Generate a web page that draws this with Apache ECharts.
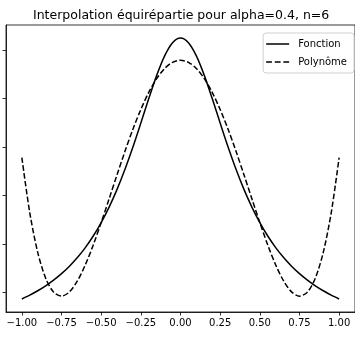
<!DOCTYPE html>
<html>
<head>
<meta charset="utf-8">
<script src="https://cdn.jsdelivr.net/npm/echarts@6/dist/echarts.min.js"></script>
<style>
  html, body { margin: 0; padding: 0; background: #fff; }
  #chart { width: 355px; height: 337px; }
</style>
</head>
<body>
<div id="chart"></div>
<script>
// Sample abscissae on [-1, 1]
const xs = [-1.00, -0.95, -0.90, -0.85, -0.80, -0.75, -0.70, -0.65, -0.60, -0.55,
            -0.50, -0.45, -0.40, -0.35, -0.30, -0.25, -0.20, -0.15, -0.10, -0.05,
             0.00,  0.05,  0.10,  0.15,  0.20,  0.25,  0.30,  0.35,  0.40,  0.45,
             0.50,  0.55,  0.60,  0.65,  0.70,  0.75,  0.80,  0.85,  0.90,  0.95, 1.00];

// Function values
const fonction = [0.862, 0.941, 1.031, 1.133, 1.250, 1.384, 1.538, 1.717, 1.923, 2.162,
                  2.439, 2.759, 3.125, 3.540, 4.000, 4.494, 5.000, 5.479, 5.882, 6.154,
                  6.250, 6.154, 5.882, 5.479, 5.000, 4.494, 4.000, 3.540, 3.125, 2.759,
                  2.439, 2.162, 1.923, 1.717, 1.538, 1.384, 1.250, 1.133, 1.031, 0.941, 0.862];

// Interpolating polynomial values
const polynome = [3.782, 2.640, 1.824, 1.292, 1.003, 0.920, 1.008, 1.234, 1.566, 1.976,
                  2.439, 2.930, 3.427, 3.911, 4.366, 4.775, 5.128, 5.412, 5.621, 5.749,
                  5.792, 5.749, 5.621, 5.412, 5.128, 4.775, 4.366, 3.911, 3.427, 2.930,
                  2.439, 1.976, 1.566, 1.234, 1.008, 0.920, 1.003, 1.292, 1.824, 2.640, 3.782];

const xTicks = [-1.00, -0.75, -0.50, -0.25, 0.00, 0.25, 0.50, 0.75, 1.00];
const yTicks = [1, 2, 3, 4, 5, 6];

const FONT = 'DejaVu Sans';

// Legend handles: a plain stroke and a dashed stroke
const ICON_SOLID = 'path://M0,0H23V1.5H0Z';
const ICON_DASHED = 'path://M0,0H5.8V1.5H0Z M8.6,0H14.4V1.5H8.6Z M17.2,0H23V1.5H17.2Z';

const chart = echarts.init(document.getElementById('chart'), null, { renderer: 'canvas' });

chart.setOption({
  animation: false,
  backgroundColor: '#fff',
  title: {
    text: 'Interpolation équirépartie pour alpha=0.4, n=6',
    left: 28,
    top: 4,
    textStyle: { fontFamily: FONT, fontSize: 12.5, fontWeight: 'normal', color: '#000' }
  },
  legend: {
    orient: 'vertical',
    right: 1,
    top: 33,
    padding: [6, 7, 6, 3],
    itemWidth: 23,
    itemHeight: 14,
    itemGap: 8,
    symbolKeepAspect: true,
    backgroundColor: '#fff',
    borderColor: '#d0d0d0',
    borderWidth: 1,
    borderRadius: 3,
    textStyle: { fontFamily: FONT, fontSize: 10, color: '#000', padding: [0, 0, 0, 4] },
    data: [
      { name: 'Fonction', icon: ICON_SOLID },
      { name: 'Polynôme', icon: ICON_DASHED }
    ]
  },
  grid: {
    left: 6, top: 25, width: 352, height: 287,
    show: true, borderColor: '#000', borderWidth: 0.8, backgroundColor: 'transparent'
  },
  xAxis: {
    type: 'value',
    min: -1.1, max: 1.1,
    splitLine: { show: false },
    axisLine: { onZero: false, lineStyle: { color: '#000', width: 0.8 } },
    axisTick: { show: true, length: 3.5, lineStyle: { color: '#000', width: 0.8 }, customValues: xTicks },
    axisLabel: {
      customValues: xTicks,
      margin: 6,
      fontFamily: FONT, fontSize: 10, color: '#000',
      formatter: v => (v < 0 ? '\u2212' : '') + Math.abs(v).toFixed(2)
    }
  },
  yAxis: {
    type: 'value',
    min: 0.5926, max: 6.5194,
    splitLine: { show: false },
    axisLine: { onZero: false, lineStyle: { color: '#000', width: 0.8 } },
    axisTick: { show: true, length: 3.5, lineStyle: { color: '#000', width: 0.8 }, customValues: yTicks },
    axisLabel: { show: false }
  },
  series: [
    {
      name: 'Fonction',
      type: 'line',
      data: xs.map((x, i) => [x, fonction[i]]),
      showSymbol: false, symbol: 'none',
      smooth: 0.3,
      lineStyle: { color: '#000', width: 1.5, type: 'solid' },
      itemStyle: { color: '#000' }
    },
    {
      name: 'Polynôme',
      type: 'line',
      data: xs.map((x, i) => [x, polynome[i]]),
      showSymbol: false, symbol: 'none',
      smooth: 0.3,
      lineStyle: { color: '#000', width: 1.5, type: [5.5, 2.4] },
      itemStyle: { color: '#000' }
    }
  ]
});
</script>
</body>
</html>
